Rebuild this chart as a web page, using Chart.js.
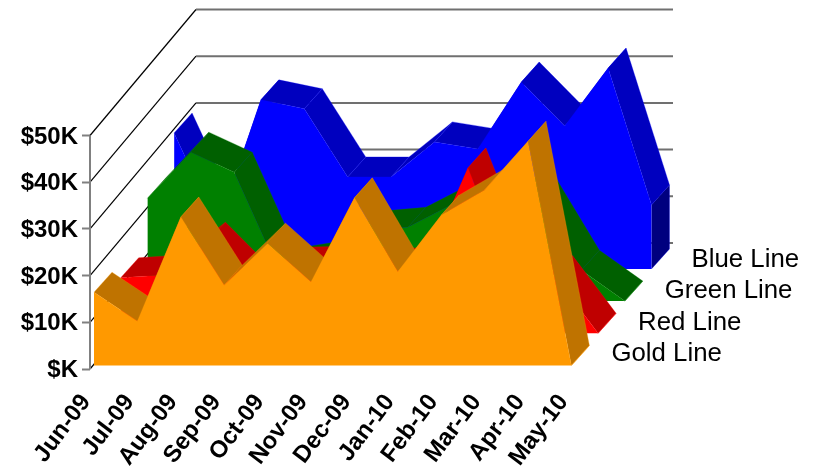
<!DOCTYPE html>
<html>
<head>
<meta charset="utf-8">
<script src="https://cdn.jsdelivr.net/npm/chart.js@4/dist/chart.umd.js"></script>
<style>
  html, body { margin: 0; padding: 0; background: #fff; overflow: hidden; }
  canvas { display: block; }
</style>
</head>
<body>
<canvas id="myChart" width="816" height="469"></canvas>
<script>
const months = ["Jun-09", "Jul-09", "Aug-09", "Sep-09", "Oct-09", "Nov-09", "Dec-09", "Jan-10", "Feb-10", "Mar-10", "Apr-10", "May-10"];
const yTicks = [0, 10, 20, 30, 40, 50];
const goldLine = [15.7, 9.5, 31.8, 17.2, 26.2, 17.9, 35.9, 20.1, 32.2, 37.6, 48, 0];
const redLine = [11.9, 12.5, 19.5, 10.2, 14.2, 14.4, 14, 14, 35.4, 12, 12.3, 0];
const greenLine = [22, 31.9, 27.6, 7, 8.5, 15, 15.8, 20.6, 22.5, 22, 6.6, 0];
const blueLine = [29.1, 9, 36.2, 34.3, 19.7, 19.7, 27.2, 25.7, 40, 30.6, 43, 13.7];

const seriesNames = ["Gold Line", "Red Line", "Green Line", "Blue Line"];
const seriesValues = [goldLine, redLine, greenLine, blueLine];
const frontColors = ["#ff9900", "#ff0000", "#008000", "#0000ff"];
const topColors = ["#bf7300", "#bf0000", "#006000", "#0000bf"];
const sideColors = ["#7f4c00", "#7f0000", "#004000", "#00007f"];

// 3d look, all in data units of the two scales
const xStepPx = 43.4, yStepPx = 4.67;
const rowX = 26.7 / xStepPx, rowY = 32.2 / yStepPx;   // shift from one series to the next
const bandX = 18 / xStepPx, bandY = 20 / yStepPx;     // thickness of a series
const wallX = 106 / xStepPx, wallY = 126 / yStepPx;   // side wall depth
const frontY = 3.5 / yStepPx;
const xMin = -4 / xStepPx;

const depthFaces = {
  id: "depthFaces",
  beforeDatasetsDraw(chart) {
    const { ctx, scales: { x, y } } = chart;
    const left = xMin;
    ctx.save();
    yTicks.forEach((v) => {
      ctx.strokeStyle = "#000";
      ctx.lineWidth = 1.2;
      ctx.beginPath();
      ctx.moveTo(x.getPixelForValue(left), y.getPixelForValue(v));
      ctx.lineTo(x.getPixelForValue(left + wallX), y.getPixelForValue(v + wallY));
      ctx.stroke();
      ctx.strokeStyle = "#707070";
      ctx.lineWidth = 2;
      ctx.beginPath();
      ctx.moveTo(x.getPixelForValue(left + wallX), y.getPixelForValue(v + wallY));
      ctx.lineTo(673, y.getPixelForValue(v + wallY));
      ctx.stroke();
    });
    ctx.strokeStyle = "#808080";
    ctx.lineWidth = 2;
    ctx.beginPath();
    ctx.moveTo(x.getPixelForValue(left), y.getPixelForValue(0));
    ctx.lineTo(x.getPixelForValue(left), y.getPixelForValue(50));
    ctx.stroke();
    ctx.restore();
  },
  beforeDatasetDraw(chart, args) {
    const { ctx, scales: { x, y } } = chart;
    const k = args.index;
    const pts = chart.getDatasetMeta(k).data;
    const bx = x.getPixelForValue(bandX) - x.getPixelForValue(0);
    const by = y.getPixelForValue(bandY) - y.getPixelForValue(0);
    const quad = (a, b, color) => {
      ctx.fillStyle = color;
      ctx.strokeStyle = frontColors[k] + "66";
      ctx.lineWidth = 0.7;
      ctx.beginPath();
      ctx.moveTo(a.x, a.y);
      ctx.lineTo(b.x, b.y);
      ctx.lineTo(b.x + bx, b.y + by);
      ctx.lineTo(a.x + bx, a.y + by);
      ctx.closePath();
      ctx.fill();
      ctx.stroke();
    };
    ctx.save();
    for (let i = 0; i < pts.length - 1; i++) {
      quad(pts[i], pts[i + 1], topColors[k]);
    }
    const last = pts[pts.length - 1];
    const base = { x: last.x, y: y.getPixelForValue(frontY + k * rowY) };
    quad(last, base, sideColors[k]);
    ctx.restore();
  },
  afterDatasetsDraw(chart) {
    const { ctx, scales: { y } } = chart;
    ctx.save();
    ctx.fillStyle = "#000";
    ctx.font = "25.8px 'Liberation Sans'";
    ctx.textAlign = "left";
    ctx.textBaseline = "alphabetic";
    seriesNames.forEach((name, k) => {
      const pts = chart.getDatasetMeta(k).data;
      const last = pts[pts.length - 1];
      ctx.fillText(name, last.x + 40, y.getPixelForValue(frontY) - 4.5 - k * 31.3);
    });
    ctx.restore();
  },
};

// faces have to go down before the filler paints each series
Chart.unregister(Chart.Filler);
Chart.register(depthFaces, Chart.Filler);

const ctx = document.getElementById("myChart").getContext("2d");
new Chart(ctx, {
  type: "line",
  data: {
    datasets: seriesValues.map((values, k) => ({
      label: seriesNames[k],
      data: values.map((v, i) => ({ x: i + k * rowX, y: v + frontY + k * rowY })),
      borderWidth: 0,
      borderColor: frontColors[k],
      backgroundColor: frontColors[k],
      pointRadius: 0,
      tension: 0,
      fill: { value: frontY + k * rowY },
    })),
  },
  options: {
    responsive: false,
    animation: false,
    devicePixelRatio: 1,
    layout: { padding: 0 },
    plugins: { legend: { display: false }, tooltip: { enabled: false } },
    scales: {
      x: {
        type: "linear",
        min: xMin,
        max: xMin + 726 / xStepPx,
        afterBuildTicks: (s) => { s.ticks = months.map((m, i) => ({ value: i })); },
        afterFit: (s) => { s.height = 100; s.paddingLeft = 0; s.paddingRight = 0; },
        grid: { display: false },
        border: { display: false },
        ticks: {
          autoSkip: false,
          minRotation: 53,
          maxRotation: 53,
          padding: 12,
          labelOffset: -8,
          color: "#000",
          font: { family: "'Liberation Sans'", size: 24, weight: "bold" },
          callback: (v) => months[v],
        },
      },
      y: {
        min: 0,
        max: 369 / yStepPx,
        afterBuildTicks: (s) => { s.ticks = yTicks.map((v) => ({ value: v })); },
        afterFit: (s) => { s.width = 90; s.paddingTop = 0; s.paddingBottom = 0; },
        grid: { drawOnChartArea: false, tickLength: 8, tickWidth: 2, color: "#808080" },
        border: { display: false },
        ticks: {
          autoSkip: false,
          padding: 4,
          labelOffset: 1.5,
          color: "#000",
          font: { family: "'Liberation Sans'", size: 24, weight: "bold" },
          callback: (v) => "$" + (v === 0 ? "" : v) + "K",
        },
      },
    },
  },
});
</script>
</body>
</html>
